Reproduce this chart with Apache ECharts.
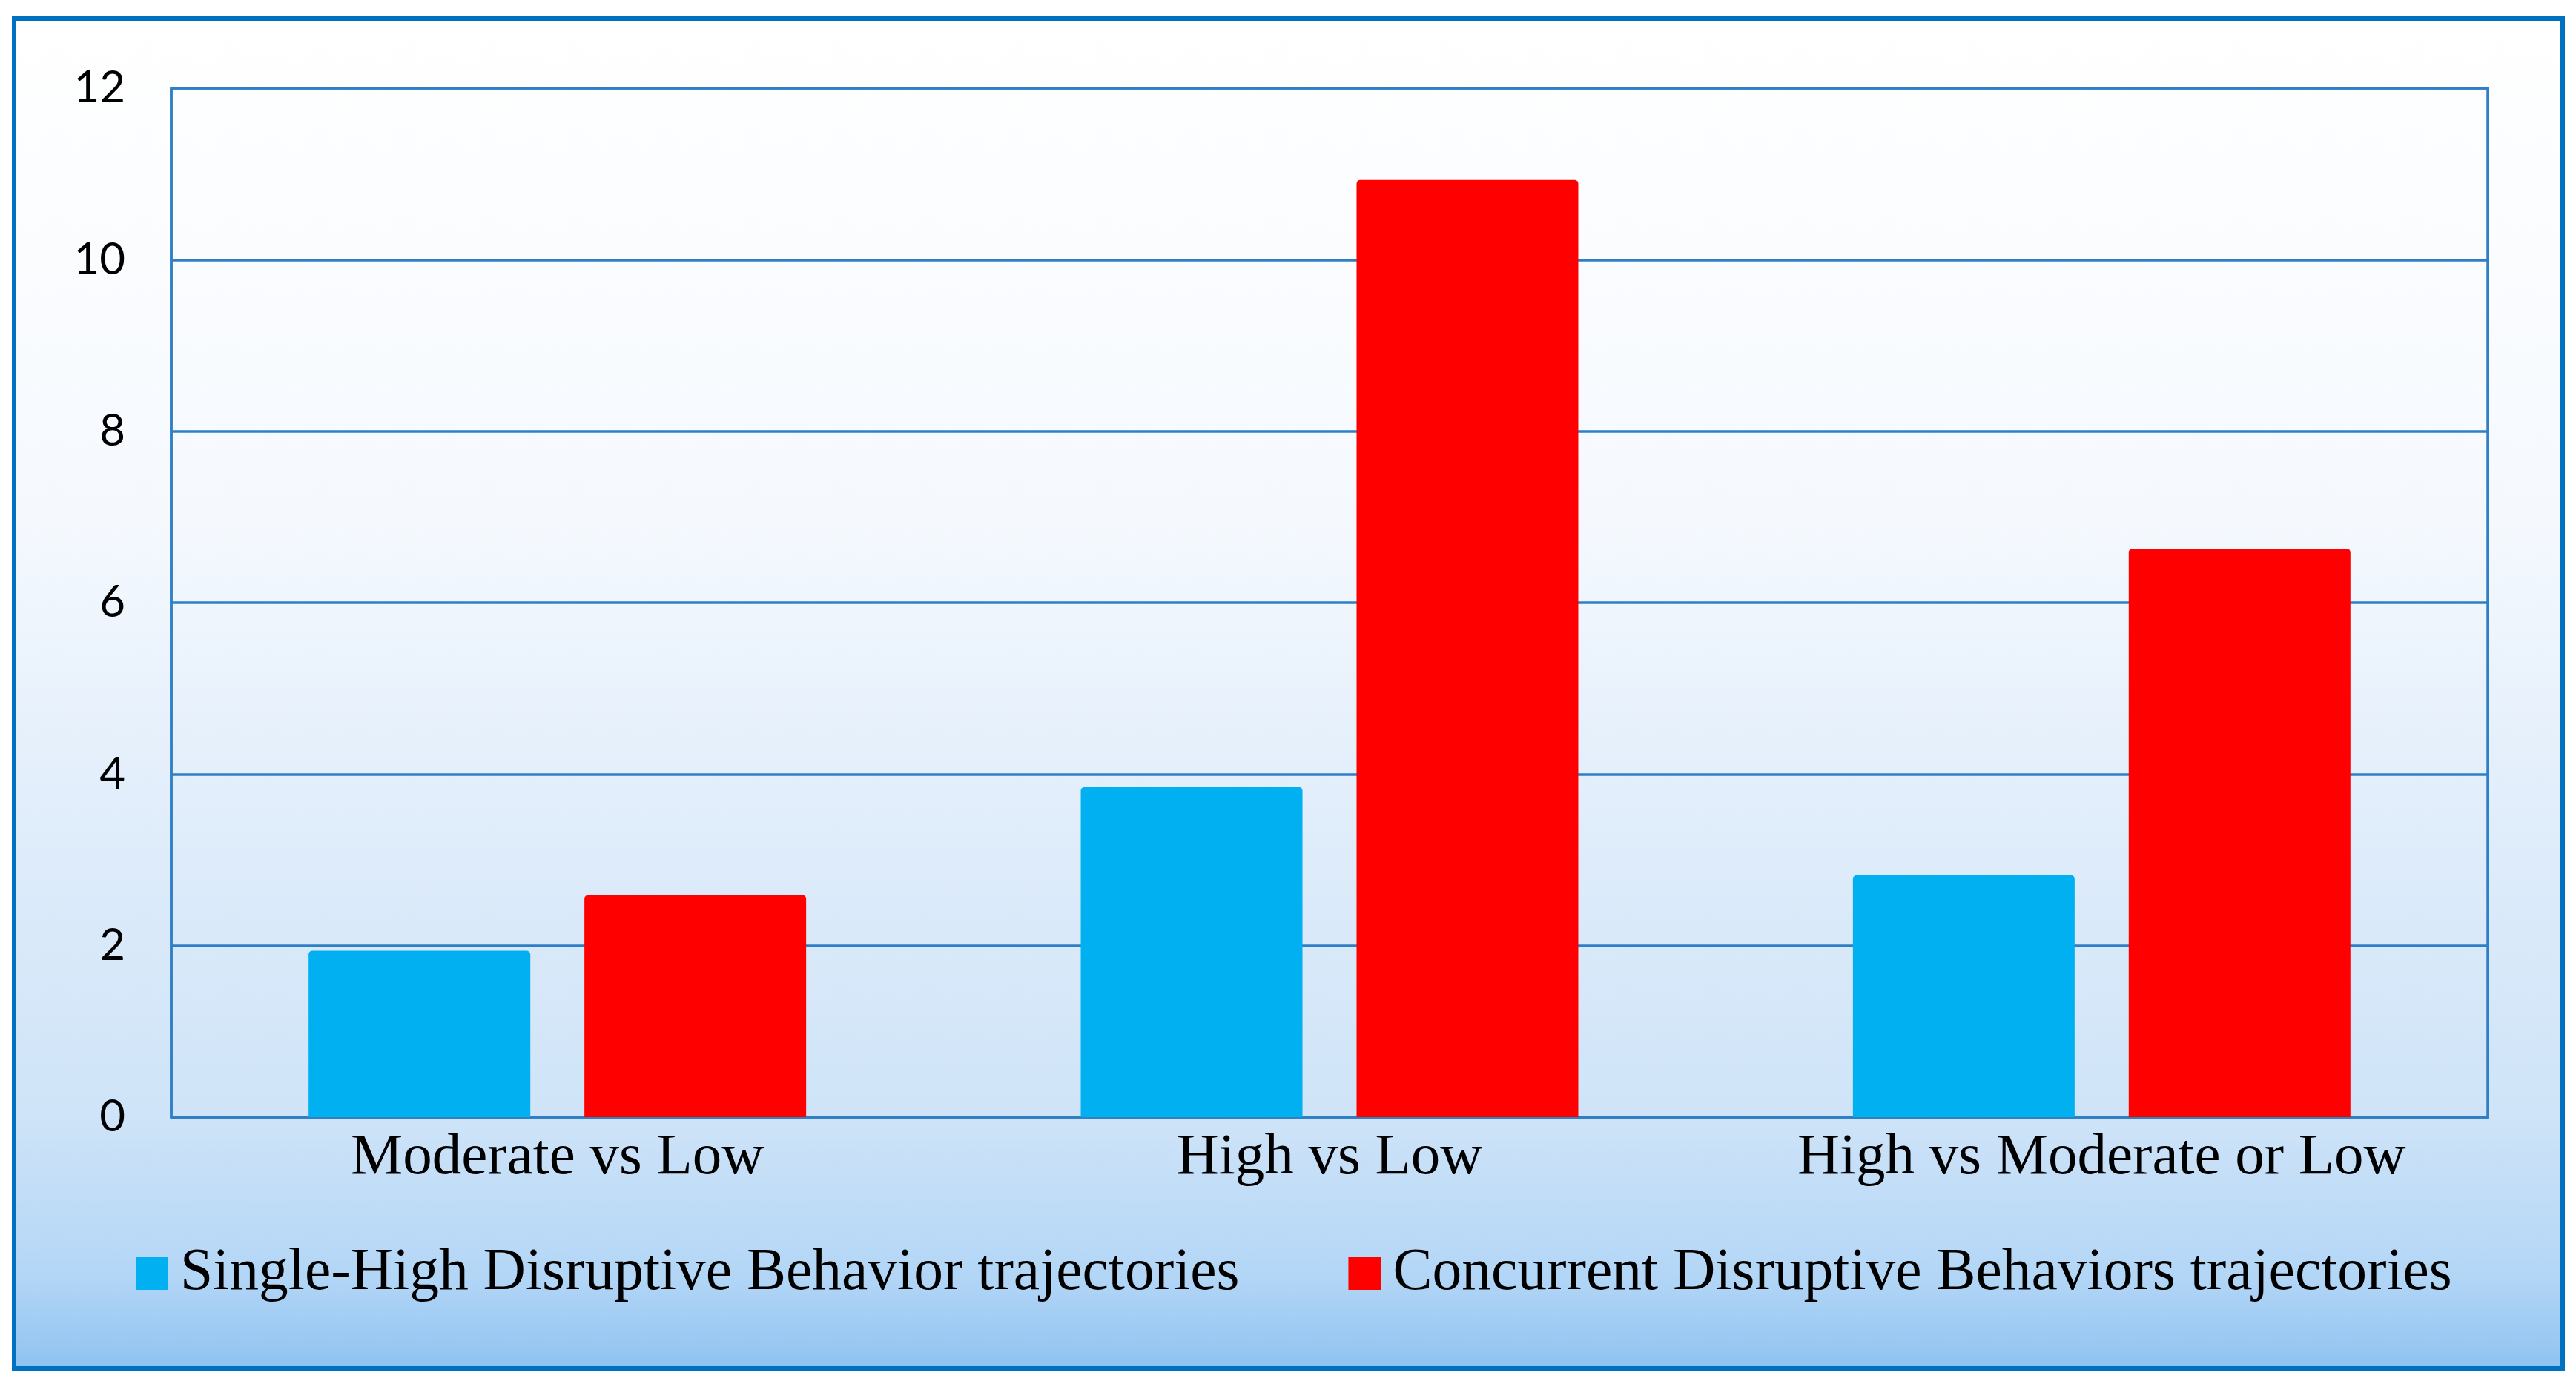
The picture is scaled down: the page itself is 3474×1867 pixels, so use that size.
<!DOCTYPE html>
<html>
<head>
<meta charset="utf-8">
<script src="https://cdn.jsdelivr.net/npm/echarts@6/dist/echarts.min.js"></script>
<style>
html,body{margin:0;padding:0;background:#fff;}
#chart{width:3474px;height:1867px;}
</style>
</head>
<body>
<div id="chart"></div>
<script>
const categories = ['Moderate vs Low', 'High vs Low', 'High vs Moderate or Low'];
const seriesNames = ['Single-High Disruptive Behavior trajectories', 'Concurrent Disruptive Behaviors trajectories'];
const singleHigh = [1.94, 3.85, 2.82];
const concurrent = [2.59, 10.93, 6.63];
const yTicks = [0, 2, 4, 6, 8, 10, 12];

const chart = echarts.init(document.getElementById('chart'), null, {renderer: 'canvas'});
const serif = "'Liberation Serif', 'Times New Roman', serif";
const gridColor = '#2F7FC7';

chart.setOption({
  backgroundColor: '#ffffff',
  animation: false,
  graphic: [{
    type: 'rect',
    z: -100,
    silent: true,
    shape: {x: 19, y: 25, width: 3437, height: 1821},
    style: {
      fill: new echarts.graphic.LinearGradient(0, 0, 0, 1, [
        {offset: 0, color: '#FFFFFF'},
        {offset: 0.37, color: '#F5F9FE'},
        {offset: 0.63, color: '#DDEBFA'},
        {offset: 0.81, color: '#CFE4F8'},
        {offset: 0.93, color: '#B3D6F6'},
        {offset: 1, color: '#8EC2F1'}
      ]),
      stroke: '#0070C0',
      lineWidth: 6
    }
  }],
  grid: {left: 231, right: 119, top: 119, bottom: 360, containLabel: false,
         show: true, borderColor: gridColor, borderWidth: 3.5, backgroundColor: 'transparent'},
  legend: {
    data: seriesNames,
    left: 178,
    top: 1673,
    itemWidth: 44,
    itemHeight: 44,
    itemGap: 147,
    icon: 'rect',
    textStyle: {fontFamily: serif, fontSize: 79.5, color: '#000', padding: [0, 0, 0, 11]}
  },
  xAxis: {
    type: 'category',
    data: categories,
    axisLine: {show: true, lineStyle: {color: gridColor, width: 3.5}},
    axisTick: {show: false},
    axisLabel: {fontFamily: serif, fontSize: 79, color: '#000', margin: 16, interval: 0}
  },
  yAxis: {
    type: 'value',
    min: 0,
    max: 12,
    interval: 2,
    axisLine: {show: true, lineStyle: {color: gridColor, width: 3.5}},
    axisTick: {show: false},
    splitLine: {show: true, lineStyle: {color: gridColor, width: 3.5}},
    axisLabel: {fontFamily: "Lato, 'Open Sans', sans-serif", fontSize: 60, color: '#000', margin: 62,
                formatter: v => yTicks.includes(v) ? String(v) : ''}
  },
  series: [
    {name: seriesNames[0], type: 'bar', data: singleHigh, barWidth: 299, barGap: '24.4%',
     itemStyle: {color: '#00B0F0', borderRadius: [5, 5, 0, 0]}},
    {name: seriesNames[1], type: 'bar', data: concurrent, barWidth: 299, barGap: '24.4%',
     itemStyle: {color: '#FF0000', borderRadius: [5, 5, 0, 0]}}
  ]
});
</script>
</body>
</html>
